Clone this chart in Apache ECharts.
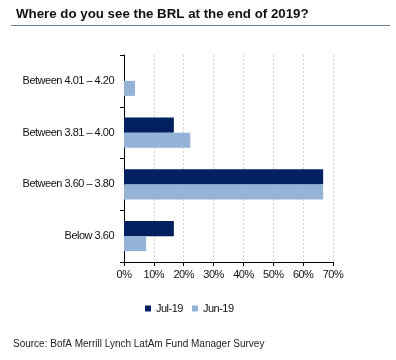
<!DOCTYPE html>
<html><head><meta charset="utf-8">
<script src="https://cdn.jsdelivr.net/npm/echarts@6/dist/echarts.min.js"></script>
<style>html,body{margin:0;padding:0;background:#fff}#c{width:396px;height:360px}</style>
</head><body><div id="c"></div>
<script>
var categories = ['Below 3.60', 'Between 3.60 \u2013 3.80', 'Between 3.81 \u2013 4.00', 'Between 4.01 \u2013 4.20'];
var jul19 = [16.7, 66.7, 16.7, 0];
var jun19 = [7.4, 66.7, 22.2, 3.7];
var seriesNames = ['Jul-19', 'Jun-19'];
var xTicks = [0, 10, 20, 30, 40, 50, 60, 70];
var titleText = 'Where do you see the BRL at the end of 2019?';
var sourceText = 'Source: BofA Merrill Lynch LatAm Fund Manager Survey';

// tighter letter spacing for the small 11px chart labels (the original uses a condensed-looking Arial)
(function () {
  var P = CanvasRenderingContext2D.prototype, orig = P.fillText;
  P.fillText = function () {
    if ('letterSpacing' in this) this.letterSpacing = /(^|\s)11px/.test(this.font) ? '-0.5px' : '0px';
    return orig.apply(this, arguments);
  };
})();

var font = 'Liberation Sans, Arial, sans-serif';
var chart = echarts.init(document.getElementById('c'));
chart.setOption({
  animation: false,
  title: { text: titleText, left: 11, top: 3, textStyle: { fontFamily: font, fontSize: 13.3, fontWeight: 'bold', color: '#111' } },
  graphic: [
    { type: 'line', shape: { x1: 11, y1: 25.5, x2: 390, y2: 25.5 }, style: { stroke: '#6b7d90', lineWidth: 1 } },
    { type: 'text', left: 13, top: 339, style: { text: sourceText, font: '10px ' + font, fill: '#222' } }
  ],
  legend: {
    data: seriesNames, top: 298, left: 140, itemWidth: 6, itemHeight: 6, itemGap: 6,
    icon: 'rect', textStyle: { fontFamily: font, fontSize: 11, color: '#111' }
  },
  grid: { left: 124, right: 63, top: 55, bottom: 98 },
  xAxis: {
    type: 'value', min: xTicks[0], max: xTicks[xTicks.length - 1], interval: 10,
    axisLine: { show: true, lineStyle: { color: '#000' } },
    axisTick: { show: true, length: 4, lineStyle: { color: '#000' } },
    axisLabel: { formatter: '{value}%', fontFamily: font, fontSize: 11, color: '#111', margin: 7 },
    splitLine: { show: true, lineStyle: { color: '#d0d0d0', type: [2, 2], width: 1 } }
  },
  yAxis: {
    type: 'category', data: categories,
    axisLine: { show: true, lineStyle: { color: '#000' } },
    axisTick: { show: true, length: 4, inside: false, lineStyle: { color: '#000' } },
    axisLabel: { fontFamily: font, fontSize: 11, color: '#111', margin: 10 }
  },
  series: [
    { name: seriesNames[0], type: 'bar', data: jul19, itemStyle: { color: '#002060' }, barGap: '0%', barCategoryGap: '42%' },
    { name: seriesNames[1], type: 'bar', data: jun19, itemStyle: { color: '#95b3d7' }, barGap: '0%', barCategoryGap: '42%' }
  ]
});
</script></body></html>
